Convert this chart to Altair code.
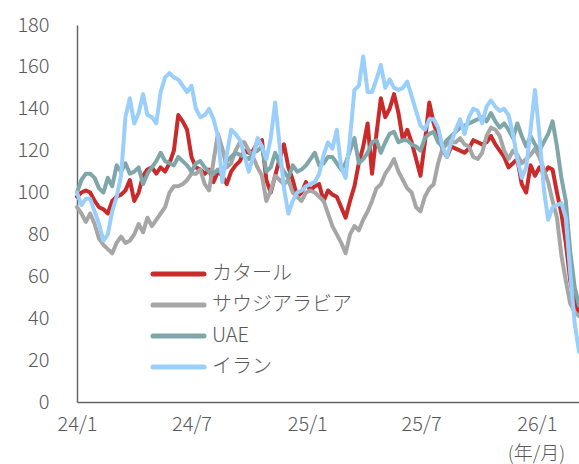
import altair as alt
import pandas as pd

FONT = "Noto Sans CJK JP"
TEXT_COLOR = "#595959"

# Weekly index values, first week of January 2024 = 100
dates = pd.date_range("2024-01-01", periods=115, freq="7D")

series_names = ["カタール", "サウジアラビア", "UAE", "イラン"]
series_colors = ["#C92A2A", "#A6A6A6", "#7FA6A8", "#9BCFFB"]

qatar = [
    98, 100, 101, 100, 96, 93, 92, 90, 96, 98,
    99, 101, 106, 96, 100, 108, 111, 112, 109, 112,
    110, 114, 120, 137, 134, 130, 117, 112, 111, 109,
    111, 105, 110, 108, 104, 110, 113, 115, 120, 119,
    120, 124, 125, 106, 100, 108, 116, 123, 112, 106,
    98, 100, 105, 101, 103, 104, 96, 101, 99, 98,
    93, 88, 96, 103, 114, 122, 133, 109, 128, 145,
    136, 140, 147, 138, 125, 130, 124, 116, 108, 124,
    143, 133, 127, 121, 117, 122, 121, 120, 119, 121,
    125, 124, 123, 124, 127, 123, 120, 117, 112, 114,
    116, 104, 100, 113, 108, 112, 109, 112, 111, 100,
    90, 76, 58, 48, 42,
]

saudi = [
    93, 90, 86, 90, 85, 78, 75, 73, 71, 76,
    79, 76, 77, 80, 85, 81, 88, 84, 87, 90,
    93, 100, 103, 103, 104, 106, 109, 109, 111, 104,
    101, 115, 128, 121, 112, 114, 120, 124, 124, 120,
    117, 112, 108, 96, 101, 108, 106, 104, 106, 100,
    98, 96, 100, 101, 100, 98, 96, 90, 84, 80,
    76, 71, 80, 84, 82, 87, 91, 96, 102, 104,
    109, 112, 116, 110, 106, 102, 100, 93, 91, 98,
    102, 104, 114, 121, 123, 124, 124, 126, 123, 122,
    117, 116, 119, 127, 131, 130, 127, 120, 116, 120,
    118, 114, 116, 118, 121, 117, 111, 105, 96, 88,
    70, 58, 47, 43, 41,
]

uae = [
    100, 106, 109, 109, 107, 102, 100, 107, 103, 113,
    110, 114, 109, 110, 112, 104, 109, 112, 115, 119,
    115, 114, 113, 117, 115, 113, 110, 114, 115, 112,
    110, 109, 111, 109, 115, 117, 119, 118, 117, 116,
    119, 120, 122, 110, 112, 119, 114, 110, 107, 113,
    110, 111, 113, 116, 119, 113, 114, 117, 117, 114,
    111, 114, 120, 126, 114, 116, 119, 124, 125, 119,
    124, 128, 129, 124, 125, 125, 123, 122, 120, 126,
    128, 129, 124, 122, 125, 127, 129, 131, 132, 133,
    134, 135, 136, 134, 138, 134, 131, 133, 130, 126,
    133, 127, 122, 127, 123, 120, 124, 128, 134, 122,
    107, 96, 72, 55, 46,
]

iran = [
    100, 94, 97, 97, 91, 85, 77, 80, 91, 98,
    108, 136, 145, 133, 138, 147, 137, 136, 133, 148,
    155, 157, 155, 154, 151, 148, 151, 140, 136, 137,
    140, 135, 127, 105, 118, 130, 128, 125, 118, 110,
    117, 126, 122, 116, 126, 143, 123, 102, 90, 96,
    100, 101, 103, 104, 105, 109, 118, 124, 121, 130,
    112, 107, 126, 149, 151, 165, 148, 148, 154, 161,
    150, 154, 150, 149, 150, 153, 146, 139, 132, 130,
    135, 135, 131, 122, 117, 124, 130, 135, 128, 136,
    140, 139, 133, 141, 144, 141, 139, 140, 137, 128,
    116, 107, 112, 130, 149, 128, 102, 87, 93, 94,
    95, 88, 62, 38, 24,
]

y_ticks = list(range(0, 181, 20))
x_ticks = [
    alt.DateTime(year=2024, month=1, date=1),
    alt.DateTime(year=2024, month=7, date=1),
    alt.DateTime(year=2025, month=1, date=1),
    alt.DateTime(year=2025, month=7, date=1),
    alt.DateTime(year=2026, month=1, date=1),
]

# long format, series in drawing order (イラン on top)
frames = []
for name, vals in zip(series_names, [qatar, saudi, uae, iran]):
    frames.append(pd.DataFrame({"date": dates, "value": vals, "series": name}))
df = pd.concat(frames, ignore_index=True)

color = alt.Color(
    "series:N",
    scale=alt.Scale(domain=series_names, range=series_colors),
    legend=None,
)

lines = alt.Chart(df).mark_line(
    strokeWidth=4, strokeJoin="round", strokeCap="round"
).encode(
    x=alt.X(
        "date:T",
        scale=alt.Scale(
            domain=[
                alt.DateTime(year=2024, month=1, date=1),
                alt.DateTime(year=2026, month=3, date=9),
            ]
        ),
        axis=alt.Axis(
            values=x_ticks,
            format="%y/%-m",
            formatType="time",
            labelFontSize=20,
            labelFont=FONT,
            labelFontWeight=300,
            labelColor=TEXT_COLOR,
            labelPadding=12,
            labelFlush=False,
            labelOverlap=False,
            ticks=False,
            tickSize=0,
            grid=False,
            domainColor="#666666",
            domainWidth=1.5,
            title="(年/月)",
            titleX=459,
            titleY=51,
            titleAlign="center",
            titleBaseline="middle",
            titleFontSize=19,
            titleFont=FONT,
            titleFontWeight=300,
            titleColor=TEXT_COLOR,
        ),
    ),
    y=alt.Y(
        "value:Q",
        scale=alt.Scale(domain=[0, 180], nice=False),
        axis=alt.Axis(
            values=y_ticks,
            labelFontSize=20,
            labelFont=FONT,
            labelFontWeight=300,
            labelColor=TEXT_COLOR,
            labelPadding=28,
            ticks=False,
            tickSize=0,
            grid=False,
            domainColor="#666666",
            domainWidth=1.5,
            title=None,
        ),
    ),
    color=color,
)

# legend drawn as rule + label rows inside the plot
legend_df = pd.DataFrame({"series": series_names})
legend_y = alt.Y(
    "series:N",
    scale=alt.Scale(type="point", domain=series_names, range=[249, 342], padding=0),
    axis=None,
)

legend_lines = alt.Chart(legend_df).mark_rule(strokeWidth=5, strokeCap="round").encode(
    x=alt.value(76),
    x2=alt.value(127),
    y=legend_y,
    color=color,
)

legend_text = alt.Chart(legend_df).mark_text(
    align="left", baseline="middle", fontSize=20, font=FONT, fontWeight=300,
    color=TEXT_COLOR
).encode(
    x=alt.value(135),
    y=legend_y,
    text="series:N",
)

chart = (
    alt.layer(lines, legend_lines, legend_text)
    .resolve_scale(y="independent")
    .properties(
        width=502,
        height=377,
        padding={"left": 77, "top": 25, "right": 0, "bottom": 62},
        autosize=alt.AutoSizeParams(type="none"),
        background="white",
    )
    .configure_view(stroke=None)
)

chart.save("out.html", embed_options={"renderer": "svg", "actions": False})
